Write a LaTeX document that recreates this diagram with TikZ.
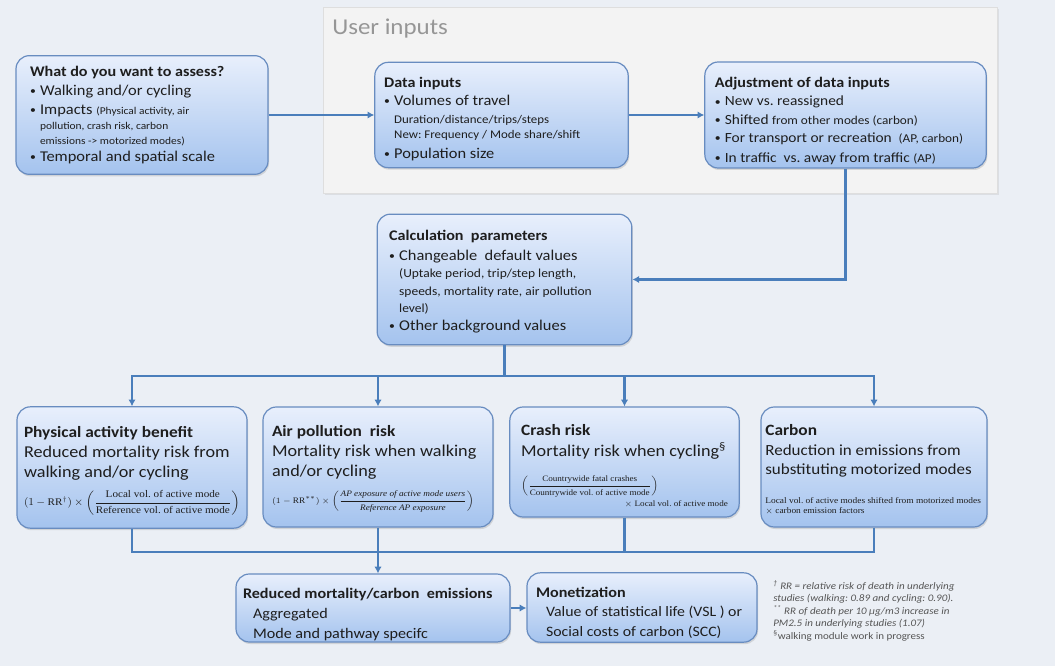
\documentclass[tikz,border=0pt]{standalone}
\usepackage{amsmath}
\usepackage{fontspec}
\setmainfont[FakeStretch=1.1]{Carlito}
\newfontfamily\formfont[FakeStretch=1.1]{Liberation Serif}
\usetikzlibrary{arrows.meta, positioning, shadows}
\frenchspacing
\definecolor{page_bg}{RGB}{235,239,245}
\definecolor{panel_fill}{RGB}{243,243,243}
\definecolor{panel_line}{RGB}{222,222,222}
\definecolor{box_top}{RGB}{232,239,252}
\definecolor{box_bottom}{RGB}{164,195,238}
\definecolor{box_line}{RGB}{104,140,192}
\definecolor{link_blue}{RGB}{74,126,187}
\definecolor{label_grey}{RGB}{150,150,150}
\definecolor{text_dark}{RGB}{30,30,30}
\definecolor{note_grey}{RGB}{85,85,85}
\newcommand{\boxhead}{\bfseries\fontsize{11}{14}\selectfont}
\newcommand{\bighead}{\bfseries\fontsize{11.8}{15}\selectfont}
\newcommand{\subfont}{\fontsize{8.8}{11}\selectfont}
\newcommand{\bul}{\makebox[7.5pt][l]{\raisebox{0.6pt}{\fontsize{8}{8}\selectfont\textbullet}}}
\newcommand{\subindent}{\hspace*{7.5pt}}
\newcommand{\headroom}[1]{\rule{0pt}{#1}}
\tikzset{
    flow_box/.style={
        draw=box_line,
        line width=0.9pt,
        rounded corners=10pt,
        top color=box_top,
        bottom color=box_bottom,
        drop shadow={opacity=0.25, shadow xshift=0.8pt, shadow yshift=-1.5pt},
        inner sep=0pt,
        align=flush left,
        text=text_dark,
        font=\fontsize{11.2}{14.25}\selectfont
    },
    result_box/.style={
        flow_box,
        font=\fontsize{12.4}{15}\selectfont
    },
    panel_box/.style={
        draw=panel_line,
        fill=panel_fill,
        line width=0.6pt,
        drop shadow={opacity=0.15, shadow xshift=1.2pt, shadow yshift=-1.2pt},
        inner sep=0pt
    },
    link_line/.style={
        draw=link_blue,
        line width=2.1pt
    },
    flow_arrow/.style={
        link_line,
        -{Latex[length=5pt,width=5.5pt]}
    },
    note_text/.style={
        align=flush left,
        inner sep=0pt,
        text=note_grey,
        font=\itshape\fontsize{7.5}{9.4}\selectfont
    }
}

\begin{document}
\begin{tikzpicture}[x=0.75pt, y=-0.75pt]

\fill[page_bg] (0,0) rectangle (1055,666);
\useasboundingbox (0,0) rectangle (1055,666);

% User inputs panel
\node[panel_box, anchor=north west, minimum width=505.5pt, minimum height=139.5pt] (panel) at (323,7) {};
\node[anchor=west, inner sep=0pt, text=label_grey, font=\fontsize{17}{19}\selectfont] (panel_label) at (332,29) {User inputs};

% Top row
\node[flow_box, minimum width=189pt, minimum height=89pt, text width=168pt] (assess) at (142,115) {
    {\boxhead What do you want to assess?}\\
    \bul Walking and/or cycling\\
    \bul Impacts {\fontsize{7.8}{10}\selectfont (Physical activity, air}\\[-3pt]
    \subindent{\fontsize{7.8}{10}\selectfont pollution, crash risk, carbon}\\[-3pt]
    \subindent{\fontsize{7.8}{10}\selectfont emissions -> motorized modes)}\\[-1.5pt]
    \bul Temporal and spatial scale
};

\node[flow_box, minimum width=190pt, minimum height=79pt, text width=176pt] (data) at (501.5,115) {
    \headroom{14pt}{\boxhead Data inputs}\\[-0.75pt]
    \bul Volumes of travel\\[-0.75pt]
    \subindent{\subfont Duration/distance/trips/steps}\\[-3pt]
    \subindent{\subfont New: Frequency / Mode share/shift}\\[0.75pt]
    \bul Population size
};

\node[flow_box, minimum width=211pt, minimum height=79.5pt, text width=196pt, font=\fontsize{10.5}{14}\selectfont] (adjust) at (845.5,115) {
    \headroom{17pt}{\boxhead Adjustment of data inputs}\\[-0.5pt]
    \bul New vs. reassigned\\
    \bul Shifted {\fontsize{9}{11}\selectfont from other modes (carbon)}\\[-0.5pt]
    \bul For transport or recreation~ {\fontsize{9}{11}\selectfont (AP, carbon)}\\[1pt]
    \bul In traffic~ vs. away from traffic {\fontsize{9}{11}\selectfont (AP)}
};

% Calculation parameters
\node[flow_box, minimum width=191pt, minimum height=98pt, text width=173pt] (calc) at (504.5,279.5) {
    \headroom{11pt}{\boxhead Calculation~ parameters}\\[0.7pt]
    \bul Changeable~ default values\\[-1.5pt]
    \subindent{\fontsize{9.2}{11}\selectfont (Uptake period, trip/step length,}\\[-0.8pt]
    \subindent{\fontsize{9.2}{11}\selectfont speeds, mortality rate, air pollution}\\[-1.5pt]
    \subindent{\fontsize{9.2}{11}\selectfont level)}\\[-0.8pt]
    \bul Other background values
};

% Pathways
\node[result_box, minimum width=172.5pt, minimum height=91pt, text width=162pt] (pa) at (132,467.5) {
    \headroom{13pt}{\bighead Physical activity benefit}\\
    Reduced mortality risk from\\
    walking and/or cycling\\[6pt]
    {\fontsize{7.6}{9}\selectfont\formfont $(1-\text{RR}^{\dagger})\times\left(\dfrac{\text{Local vol. of active mode}}{\text{Reference vol. of active mode}}\right)$}
};

\node[result_box, minimum width=172.5pt, minimum height=90pt, text width=159pt] (ap) at (378,467) {
    \headroom{11pt}{\bighead Air pollution~ risk}\\
    Mortality risk when walking\\
    and/or cycling\\[5pt]
    {\fontsize{6.3}{8}\selectfont\formfont $(1-\text{RR}^{**})\times\left(\dfrac{\textit{AP exposure of active mode users}}{\textit{Reference AP exposure}}\right)$}
};

\node[result_box, minimum width=172pt, minimum height=82.5pt, text width=155pt] (crash) at (624.5,462) {
    \headroom{14.5pt}{\bighead Crash risk}\\[0.75pt]
    Mortality risk when cycling\textsuperscript{\S}\\[9pt]
    {\fontsize{6.2}{8}\selectfont\formfont $\left(\dfrac{\text{Countrywide fatal crashes}}{\text{Countrywide vol. of active mode}}\right)$}\\[-1pt]
    \hspace*{\fill}{\fontsize{6.2}{8}\selectfont\formfont $\times$ Local vol. of active mode}
};

\node[result_box, minimum width=169.5pt, minimum height=90pt, text width=163pt, font=\fontsize{11.6}{14.5}\selectfont] (carbon) at (874,467) {
    \headroom{12.5pt}{\bighead Carbon}\\
    Reduction in emissions from\\
    substituting motorized modes\\[7pt]
    {\fontsize{6.4}{8}\selectfont\formfont Local vol. of active modes shifted from motorized modes}\\[-6.5pt]
    {\fontsize{6.4}{8}\selectfont\formfont $\times$ carbon emission factors}
};

% Results
\node[flow_box, minimum width=205.5pt, minimum height=51pt, text width=195pt, font=\fontsize{11}{15}\selectfont] (reduced) at (373,608) {
    \headroom{17pt}{\boxhead Reduced mortality/carbon~ emissions}\\
    \subindent Aggregated\\
    \subindent Mode and pathway specifc
};

\node[flow_box, minimum width=172.5pt, minimum height=52pt, text width=159pt, font=\fontsize{10.8}{14.5}\selectfont] (monet) at (642,607.5) {
    \headroom{15.5pt}{\boxhead Monetization}\\
    \subindent Value of statistical life (VSL ) or\\
    \subindent Social costs of carbon (SCC)
};

% Footnotes
\node[note_text, anchor=north west] (notes) at (773,580) {
    \textsuperscript{\dag} RR = relative risk of death in underlying\\
    studies (walking: 0.89 and cycling: 0.90).\\
    \textsuperscript{**} RR of death per 10 µg/m3 increase in\\
    PM2.5 in underlying studies (1.07)\\
    {\upshape\textsuperscript{\S}walking module work in progress}
};

% Connectors
\coordinate (split) at (504.5,376);
\coordinate (merge) at (378,552);

\draw[flow_arrow] (assess.east) -- (data.west);
\draw[flow_arrow] (data.east) -- (adjust.west);
\draw[flow_arrow] (adjust.south) |- (calc.east);
\draw[link_line] (calc.south) -- (split);
\foreach \target in {pa, ap, crash, carbon} {
    \draw[flow_arrow] (split) -| (\target.north);
}
\foreach \source in {pa, crash, carbon} {
    \draw[link_line] (\source.south) |- (merge);
}
\draw[link_line] (ap.south) -- (merge);
\draw[flow_arrow] (merge) -- (merge |- reduced.north);
\draw[flow_arrow] (reduced.east) -- (reduced.east -| monet.west);

\end{tikzpicture}
\end{document}
